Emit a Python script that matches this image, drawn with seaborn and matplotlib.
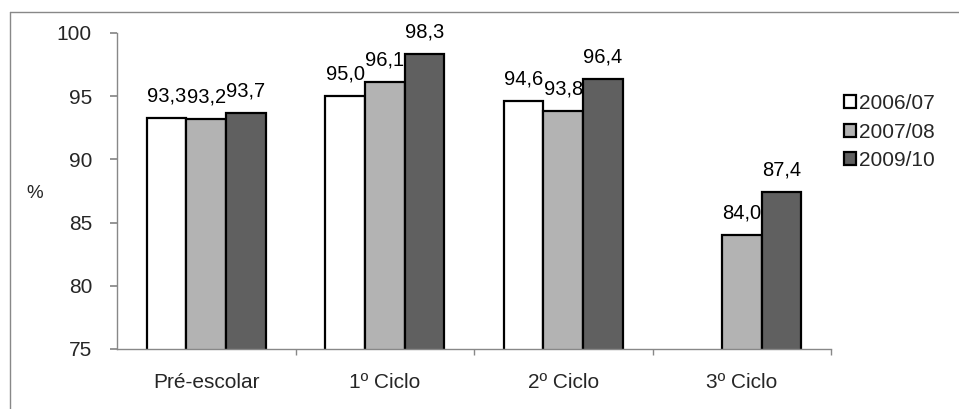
import matplotlib
matplotlib.use("Agg")
import matplotlib.pyplot as plt
from matplotlib.lines import Line2D
from matplotlib.ticker import FixedLocator
import seaborn as sns
import pandas as pd
import numpy as np

categories = ["Pré-escolar", "1º Ciclo", "2º Ciclo", "3º Ciclo"]
years = ["2006/07", "2007/08", "2009/10"]
v_2006 = [93.3, 95.0, 94.6, np.nan]
v_2007 = [93.2, 96.1, 93.8, 84.0]
v_2009 = [93.7, 98.3, 96.4, 87.4]
colors = ["#ffffff", "#b3b3b3", "#606060"]

rows = []
for yr, vals in zip(years, [v_2006, v_2007, v_2009]):
    for c, v in zip(categories, vals):
        rows.append({"cat": c, "year": yr, "val": v})
df = pd.DataFrame(rows)

sns.set_theme(style="white")
plt.rcParams["font.family"] = ["Liberation Sans", "DejaVu Sans"]

fig = plt.figure(figsize=(9.59, 4.09), dpi=100)
ax = fig.add_axes([117/959, 1-349/409, (831-117)/959, (349-33)/409])

sns.barplot(data=df, x="cat", y="val", hue="year", order=categories,
            hue_order=years, palette=colors, width=0.667, gap=0,
            edgecolor="black", linewidth=1.6, ax=ax, saturation=1)

for cont in ax.containers:
    for rect in cont:
        h = rect.get_height()
        if np.isnan(h) or h == 0:
            continue
        ax.annotate(f"{h:.1f}".replace(".", ","),
                    (rect.get_x() + rect.get_width()/2, h),
                    xytext=(0, 9), textcoords="offset points",
                    ha="center", va="bottom", fontsize=14.5, color="black")

ax.set_ylim(75, 100)
ax.set_xlim(-0.5, 3.5)
ax.set_yticks([75, 80, 85, 90, 95, 100])
ax.set_xlabel("")
ax.set_ylabel("")
ax.tick_params(axis="y", labelsize=15, length=5, color="#888888",
               left=True, pad=13)
ax.tick_params(axis="x", which="major", labelsize=15, length=0, pad=17)
ax.xaxis.set_minor_locator(FixedLocator([0.5, 1.5, 2.5, 3.5]))
ax.tick_params(axis="x", which="minor", length=4, color="#888888",
               bottom=True, width=1)
for s in ["top", "right"]:
    ax.spines[s].set_visible(False)
for s in ["left", "bottom"]:
    ax.spines[s].set_color("#888888")
    ax.spines[s].set_linewidth(1)

fig.text(35/959, 1-193/409, "%", fontsize=13.5, ha="center", va="center")

leg = ax.legend(loc="upper left", bbox_to_anchor=(844/959, 1-94/409),
                bbox_transform=fig.transFigure, frameon=False, fontsize=15,
                handlelength=0.58, handleheight=0.58, handletextpad=0.15,
                labelspacing=0.46, borderaxespad=0, borderpad=0)

fig.add_artist(Line2D([10/959, 10/959], [0, 1-12/409], color="#888888",
                      lw=1, transform=fig.transFigure))
fig.add_artist(Line2D([10/959, 1], [1-12/409, 1-12/409], color="#888888",
                      lw=1, transform=fig.transFigure))

fig.savefig("out.png", dpi=100)
